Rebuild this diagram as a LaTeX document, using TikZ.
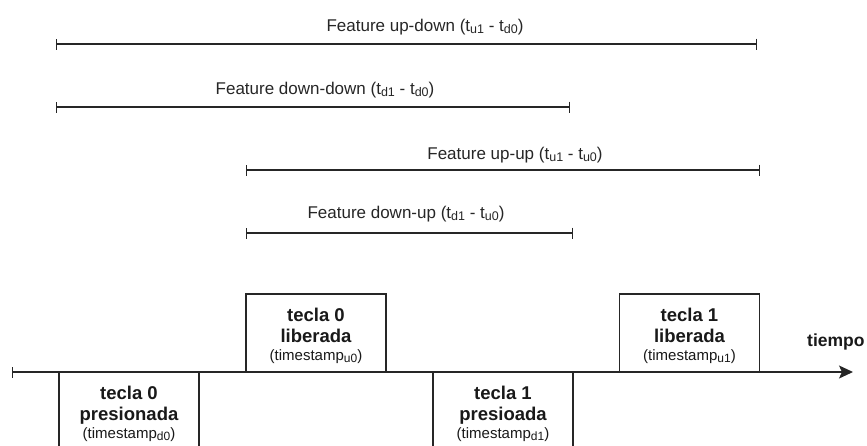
\documentclass[tikz,border=0pt]{standalone}
\usepackage{fontspec}
\setmainfont{Liberation Sans}
\usetikzlibrary{arrows.meta}
\newcommand{\sbs}[1]{\raisebox{-0.3ex}{\fontsize{12.5}{13}\selectfont #1}}
\newcommand{\tsx}[1]{{\mdseries\fontsize{15}{16}\selectfont (timestamp{\fontsize{12}{13}\selectfont\raisebox{-0.35ex}{#1}})}}
\newcommand{\topstrut}{\rule{0pt}{19.5pt}}
\begin{document}
\begin{tikzpicture}[x=1pt,y=-1pt,
  ln/.style={draw=black!85, line width=1.4pt},
  dim/.style={ln, {Bar[width=11pt,line width=1.4pt]}-{Bar[width=11pt,line width=1.4pt]}},
  lbl/.style={font=\fontsize{17}{19}\selectfont, text=black!85, inner sep=0pt, anchor=base},
  keybox/.style={draw=black!85, line width=1.4pt, fill=white, minimum width=140pt,
    minimum height=78pt, inner sep=0pt, align=center, text=black!90,
    font=\fontsize{18.5}{21}\selectfont\bfseries}]
\useasboundingbox (0,0) rectangle (867,445);
% dimension lines
\coordinate (a1) at (56,44);  \coordinate (b1) at (757,44);
\coordinate (a2) at (56,107); \coordinate (b2) at (570,107);
\coordinate (a3) at (246,170); \coordinate (b3) at (760,170);
\coordinate (a4) at (246,233); \coordinate (b4) at (573,233);
\draw[dim] (a1) -- (b1);
\draw[dim] (a2) -- (b2);
\draw[dim] (a3) -- (b3);
\draw[dim] (a4) -- (b4);
\node[lbl] (l1) at (425,31) {Feature up-down (t\sbs{u1} - t\sbs{d0})};
\node[lbl] (l2) at (325,94) {Feature down-down (t\sbs{d1} - t\sbs{d0})};
\node[lbl] (l3) at (515,159) {Feature up-up (t\sbs{u1} - t\sbs{u0})};
\node[lbl] (l4) at (406,218) {Feature down-up (t\sbs{d1} - t\sbs{u0})};
% time axis
\coordinate (s) at (12,372);
\coordinate (e) at (853,372);
\draw[ln, {Bar[width=11pt,line width=1.4pt]}-{Stealth[length=14pt,width=13pt,inset=3pt]}] (s) -- (e);
\node[font=\fontsize{17.5}{21}\selectfont\bfseries, text=black!90, inner sep=0pt, anchor=base west] (t) at (807,346) {tiempo};
% key boxes
\node[keybox] (k0p) at (129,411) {\topstrut tecla 0\\presionada\\[-3pt]\tsx{d0}};
\node[keybox] (k0l) at (316,333) {\topstrut tecla 0\\liberada\\[-3pt]\tsx{u0}};
\node[keybox] (k1p) at (503,411) {\topstrut tecla 1\\presioada\\[-3pt]\tsx{d1}};
\node[keybox] (k1l) at (689.5,333) {\topstrut tecla 1\\liberada\\[-3pt]\tsx{u1}};
\end{tikzpicture}
\end{document}
